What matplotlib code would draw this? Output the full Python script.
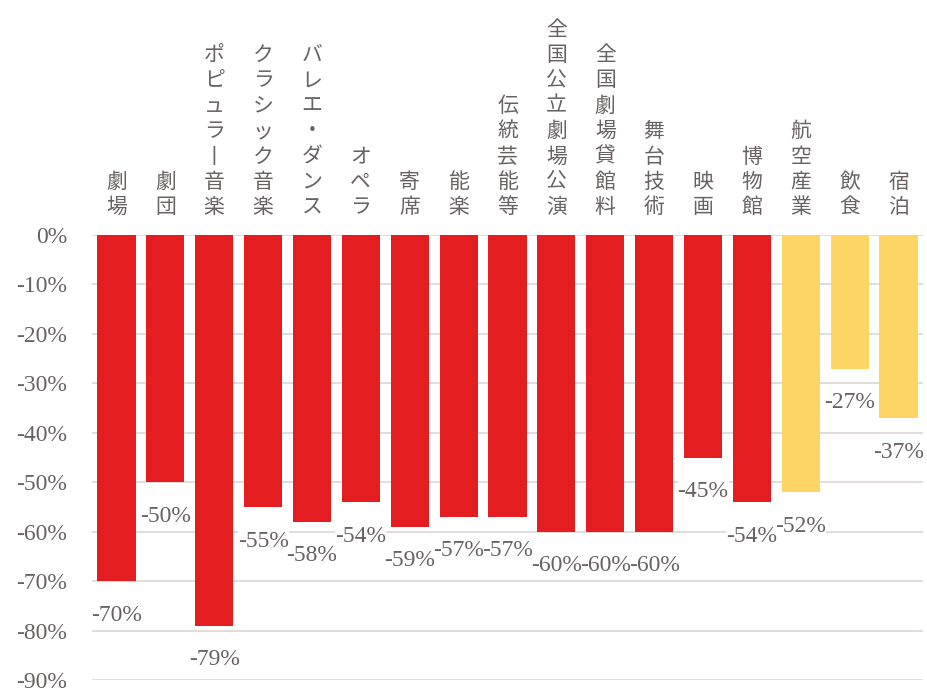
import matplotlib
matplotlib.use("Agg")
import matplotlib.pyplot as plt
from matplotlib.ticker import FixedLocator

categories = ["劇場", "劇団", "ポピュラー音楽", "クラシック音楽", "バレエ・ダンス", "オペラ",
              "寄席", "能楽", "伝統芸能等", "全国公立劇場公演", "全国劇場貸館料", "舞台技術",
              "映画", "博物館", "航空産業", "飲食", "宿泊"]
values = [-70, -50, -79, -55, -58, -54, -59, -57, -57, -60, -60, -60, -45, -54, -52, -27, -37]
groups = ["culture"] * 14 + ["other"] * 3
yticks = [0, -10, -20, -30, -40, -50, -60, -70, -80, -90]

colors = {"culture": "#e41e20", "other": "#fdd565"}
text_gray = "#686262"

fig = plt.figure(figsize=(9.27, 6.88), dpi=100)
fig.patch.set_facecolor("white")
ax = fig.add_axes([92 / 927, 1 - 680 / 688, (923 - 92) / 927, (680 - 235) / 688])

x = list(range(len(categories)))
ax.bar(x, values, width=0.78, color=[colors[g] for g in groups], zorder=3)

ax.set_xlim(-0.5, len(categories) - 0.5)
ax.set_ylim(-90, 0)
ax.yaxis.set_major_locator(FixedLocator(yticks))
ax.set_yticks(yticks)
ax.set_yticklabels([f"{t}%" for t in yticks], fontfamily="Liberation Serif",
                   fontsize=17, color=text_gray)
ax.tick_params(axis="y", length=0, pad=18)
ax.set_xticks([])
for s in ax.spines.values():
    s.set_visible(False)
ax.grid(axis="y", color="#ddd6d3", linewidth=1.2, zorder=0)
ax.set_axisbelow(True)

# value labels below bars
for i, v in enumerate(values):
    ax.annotate(f"{v}%", (i, v), xytext=(0, -17), textcoords="offset points",
                ha="center", va="top", fontfamily="Liberation Serif", fontsize=17,
                color=text_gray, zorder=100 - i, annotation_clip=False,
                bbox=dict(boxstyle="square,pad=0.0", fc="white", ec="none"))

# vertical category labels above zero line
for i, c in enumerate(categories):
    disp = "\n".join(ch if ch != "ー" else "丨" for ch in c)
    ax.annotate(disp, (i, 0), xytext=(0, 12), textcoords="offset points",
                ha="center", va="bottom", multialignment="center",
                fontfamily=["Noto Sans CJK JP", "DejaVu Sans"], fontsize=15,
                linespacing=1.2, color=text_gray, annotation_clip=False)

fig.savefig("out.png", dpi=100, facecolor="white")
